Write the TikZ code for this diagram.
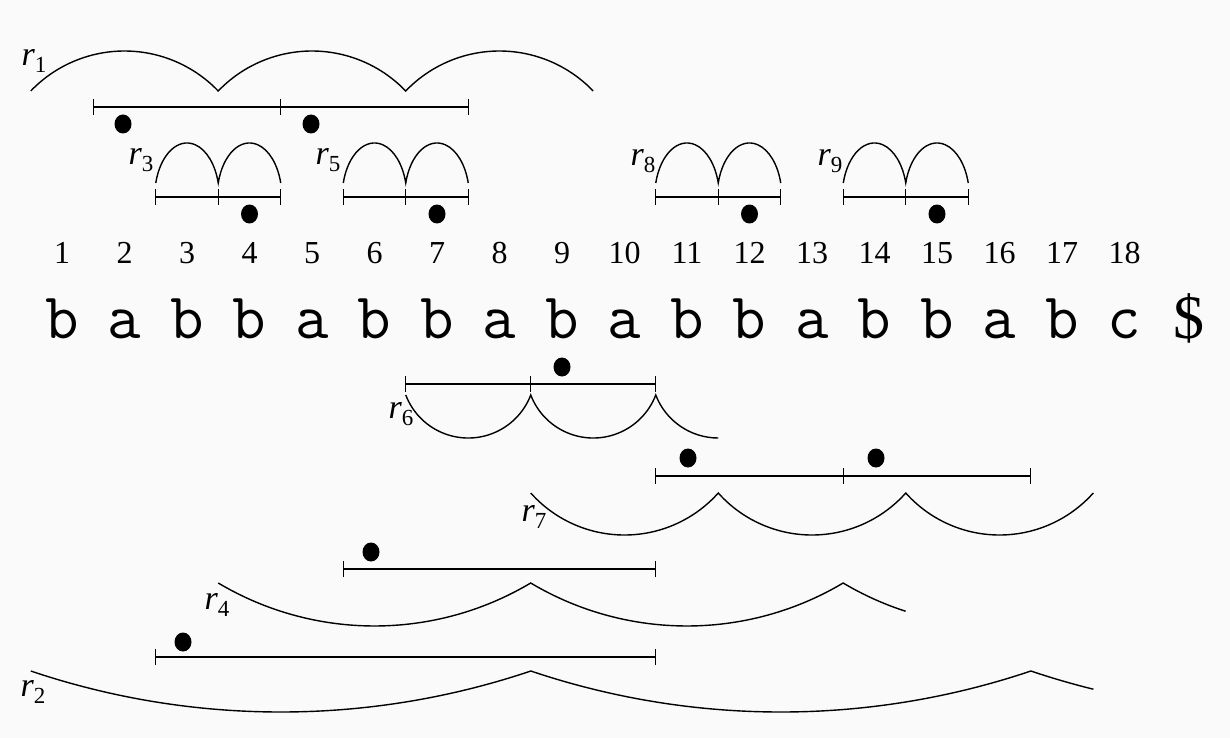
\documentclass[tikz,border=0pt]{standalone}
\usepackage{fontspec}
\setmainfont{Liberation Serif}
\definecolor{bgc}{RGB}{250,250,250}
\newcommand{\rlab}[1]{{\fontsize{34}{34}\selectfont\itshape r}\raisebox{-7pt}{\fontsize{23}{23}\selectfont #1}}
\begin{document}
\begin{tikzpicture}[x=1pt,y=-1pt,
  ln/.style={line width=1.4pt,black},
  dotf/.style={fill=black},
  num/.style={anchor=base,inner sep=0pt,font=\fontsize{32}{32}\selectfont},
  let/.style={anchor=base,inner sep=0pt,font=\ttfamily\fontsize{65}{65}\selectfont},
  lab/.style={inner sep=0pt}]
\fill[bgc] (0,0) rectangle (1230,738);
\useasboundingbox (0,0) rectangle (1230,738);
% numbers and letters
\foreach \i/\c in {1/b,2/a,3/b,4/b,5/a,6/b,7/b,8/a,9/b,10/a,11/b,12/b,13/a,14/b,15/b,16/a,17/b,18/c}{
  \node[num] (n\i) at ({62+(\i-1)*62.5},263) {\i};
  \node[let] (c\i) at ({62+(\i-1)*62.5},338) {\c};
}
\node[anchor=base,inner sep=0pt,font=\fontsize{62}{62}\selectfont] (c19) at (1189,338) {\$};
% ---------- r1
\draw[ln] (30.75,91) arc[start angle=223.79,end angle=316.21,radius=129.86]
  arc[start angle=223.79,end angle=316.21,radius=129.86]
  arc[start angle=223.79,end angle=316.21,radius=129.86];
\draw[ln] (93.25,107) -- (468.25,107);
\foreach \x in {93.25,280.75,468.25}{\draw[ln] (\x,99) -- (\x,115);}
\fill[dotf] (123,124) ellipse[x radius=8.5,y radius=9.5];
\fill[dotf] (311,124) ellipse[x radius=8.5,y radius=9.5];
\node[lab] (l1) at (34,61) {\rlab{1}};
% ---------- small ones r3 r5 r8 r9
\foreach \s/\dx/\nm in {155.75/249.5/3,343.25/437/5,655.75/749.5/8,843.25/937/9}{
  \draw[ln] (\s,183) arc[start angle=195,end angle=345,x radius=32.35,y radius=54]
    arc[start angle=195,end angle=345,x radius=32.35,y radius=54];
  \draw[ln] (\s,197) -- ({\s+125},197);
  \foreach \k in {0,1,2}{\draw[ln] ({\s+\k*62.5},189) -- ({\s+\k*62.5},205);}
  \fill[dotf] (\dx,214) ellipse[x radius=8.5,y radius=9.5];
}
\node[lab] (l3) at (141,160) {\rlab{3}};
\node[lab] (l5) at (328,160) {\rlab{5}};
\node[lab] (l8) at (643,161) {\rlab{8}};
\node[lab] (l9) at (830,161) {\rlab{9}};
% ---------- r6
\draw[ln] (405.75,395) arc[start angle=159.06,end angle=20.94,radius=66.92]
  arc[start angle=159.06,end angle=20.94,radius=66.92]
  arc[start angle=159.06,end angle=90,radius=66.92];
\draw[ln] (405.75,384) -- (655.75,384);
\foreach \x in {405.75,530.75,655.75}{\draw[ln] (\x,376) -- (\x,392);}
\fill[dotf] (562,367) ellipse[x radius=8.5,y radius=9.5];
\node[lab] (l6) at (401,414) {\rlab{6}};
% ---------- r7
\draw[ln] (530.75,493) arc[start angle=138.27,end angle=41.73,radius=125.63]
  arc[start angle=138.27,end angle=41.73,radius=125.63]
  arc[start angle=138.27,end angle=41.73,radius=125.63];
\draw[ln] (655.75,476) -- (1030.75,476);
\foreach \x in {655.75,843.25,1030.75}{\draw[ln] (\x,468) -- (\x,484);}
\fill[dotf] (688,458) ellipse[x radius=8.5,y radius=9.5];
\fill[dotf] (876,458) ellipse[x radius=8.5,y radius=9.5];
\node[lab] (l7) at (534,517) {\rlab{7}};
% ---------- r4
\draw[ln] (218.25,583) arc[start angle=120.77,end angle=59.23,radius=305.38]
  arc[start angle=120.77,end angle=59.23,radius=305.38]
  arc[start angle=120.77,end angle=107.88,radius=305.38];
\draw[ln] (343.25,569) -- (655.75,569);
\foreach \x in {343.25,655.75}{\draw[ln] (\x,561) -- (\x,577);}
\fill[dotf] (371,552) ellipse[x radius=8.5,y radius=9.5];
\node[lab] (l4) at (217,605) {\rlab{4}};
% ---------- r2
\draw[ln] (30.75,671) arc[start angle=108.63,end angle=71.37,radius=782.7]
  arc[start angle=108.63,end angle=71.37,radius=782.7]
  arc[start angle=108.63,end angle=103.86,radius=782.7];
\draw[ln] (155.75,657) -- (655.75,657);
\foreach \x in {155.75,655.75}{\draw[ln] (\x,649) -- (\x,665);}
\fill[dotf] (183,642) ellipse[x radius=8.5,y radius=9.5];
\node[lab] (l2) at (33,692) {\rlab{2}};
\end{tikzpicture}
\end{document}
